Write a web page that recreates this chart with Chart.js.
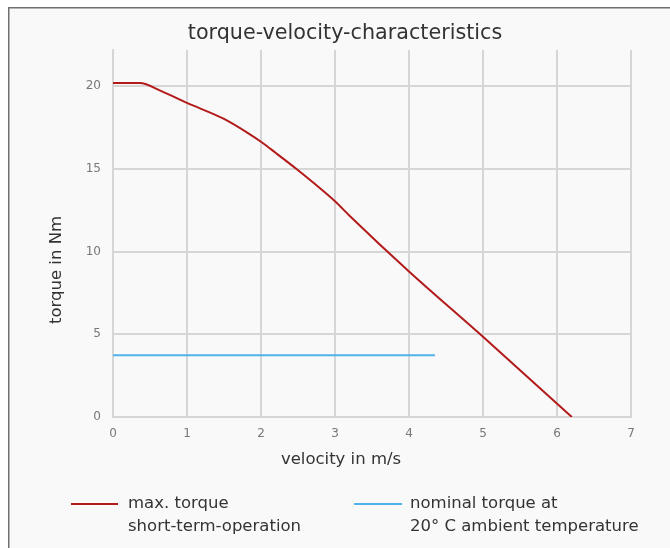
<!DOCTYPE html>
<html>
<head>
<meta charset="utf-8">
<script src="https://cdn.jsdelivr.net/npm/chart.js@4/dist/chart.umd.min.js"></script>
<style>
  html, body { margin: 0; padding: 0; background: #ffffff; }
  #wrap { position: relative; width: 670px; height: 548px; }
  canvas { display: block; }
</style>
</head>
<body>
<div id="wrap"><canvas id="c" width="670" height="548"></canvas></div>
<script>
// ---- data ----
const chartTitle = "torque-velocity-characteristics";
const xTitle = "velocity in m/s";
const yTitle = "torque in Nm";

const maxVelocity = [0, 0.36, 0.66, 1.0, 1.5, 1.85, 2.0, 2.2, 2.48, 2.7, 3.0, 3.2, 4.0, 5.0, 6.2];
const maxTorque   = [20.2, 20.2, 19.7, 19.0, 18.03, 17.1, 16.65, 15.97, 15.0, 14.2, 13.05, 12.16, 8.8, 4.85, 0];

const nominalVelocity = [0, 4.35];
const nominalTorque   = [3.74, 3.74];

const maxLabel = ["max. torque", "short-term-operation"];
const nominalLabel = ["nominal torque at", "20\u00B0 C ambient temperature"];

const xTicks = [0, 1, 2, 3, 4, 5, 6, 7];
const yTicks = [0, 5, 10, 15, 20];

// ---- helpers ----
const toPoints = (xs, ys) => xs.map((x, i) => ({ x: x, y: ys[i] }));
const FONT = "'DejaVu Sans', Verdana, sans-serif";

const framePlugin = {
  id: 'frame',
  beforeDraw(chart) {
    const ctx = chart.ctx;
    ctx.save();
    ctx.fillStyle = '#f9f9f9';
    ctx.fillRect(9, 8, chart.width - 9, chart.height - 8);
    ctx.strokeStyle = '#707070';
    ctx.lineWidth = 1.5;
    ctx.beginPath();
    ctx.moveTo(8.75, chart.height);
    ctx.lineTo(8.75, 7.75);
    ctx.lineTo(chart.width, 7.75);
    ctx.stroke();
    ctx.restore();
  }
};

const annotationsPlugin = {
  id: 'texts',
  afterDraw(chart) {
    const ctx = chart.ctx;
    const ds = chart.data.datasets;
    ctx.save();
    ctx.fillStyle = '#333333';
    ctx.textBaseline = 'middle';
    ctx.textAlign = 'center';
    // chart title
    ctx.font = "20.7px " + FONT;
    ctx.fillText(chartTitle, 345, 34);
    // x axis title
    ctx.font = "16.5px " + FONT;
    ctx.fillText(xTitle, 341, 460);
    // y axis title
    ctx.save();
    ctx.translate(57, 270);
    ctx.rotate(-Math.PI / 2);
    ctx.fillText(yTitle, 0, 0);
    ctx.restore();
    // legend
    ctx.textAlign = 'left';
    const items = [
      { x0: 71, x1: 118, tx: 128, ds: ds[0] },
      { x0: 354, x1: 402, tx: 410, ds: ds[1] }
    ];
    items.forEach(it => {
      ctx.strokeStyle = it.ds.borderColor;
      ctx.lineWidth = 2;
      ctx.beginPath();
      ctx.moveTo(it.x0, 504);
      ctx.lineTo(it.x1, 504);
      ctx.stroke();
      it.ds.label.forEach((line, i) => {
        ctx.fillText(line, it.tx, 504 + i * 23);
      });
    });
    ctx.restore();
  }
};

new Chart(document.getElementById('c'), {
  type: 'line',
  data: {
    datasets: [
      {
        label: maxLabel,
        data: toPoints(maxVelocity, maxTorque),
        borderColor: '#b31b1b',
        borderWidth: 2,
        pointRadius: 0,
        cubicInterpolationMode: 'monotone',
        fill: false
      },
      {
        label: nominalLabel,
        data: toPoints(nominalVelocity, nominalTorque),
        borderColor: '#4fb3ea',
        borderWidth: 2,
        pointRadius: 0,
        tension: 0,
        fill: false
      }
    ]
  },
  options: {
    responsive: false,
    animation: false,
    devicePixelRatio: 1,
    layout: { padding: { left: 0, right: 39, top: 50, bottom: 0 } },
    plugins: {
      legend: { display: false },
      tooltip: { enabled: false },
      title: { display: false }
    },
    scales: {
      x: {
        type: 'linear',
        min: 0,
        max: 7,
        afterBuildTicks(scale) { scale.ticks = xTicks.map(v => ({ value: v })); },
        afterFit(scale) { scale.height = 131; },
        grid: { color: '#d6d6d6', lineWidth: 2, drawTicks: false },
        border: { color: '#d6d6d6', width: 2 },
        ticks: {
          color: '#777777',
          font: { family: FONT, size: 12 },
          padding: 10,
          maxRotation: 0
        }
      },
      y: {
        type: 'linear',
        min: 0,
        max: 22.2,
        afterBuildTicks(scale) { scale.ticks = yTicks.map(v => ({ value: v })); },
        afterFit(scale) { scale.width = 113; },
        grid: { color: '#d6d6d6', lineWidth: 2, drawTicks: false },
        border: { color: '#d6d6d6', width: 2 },
        ticks: {
          color: '#777777',
          font: { family: FONT, size: 12 },
          padding: 12
        }
      }
    }
  },
  plugins: [framePlugin, annotationsPlugin]
});
</script>
</body>
</html>
